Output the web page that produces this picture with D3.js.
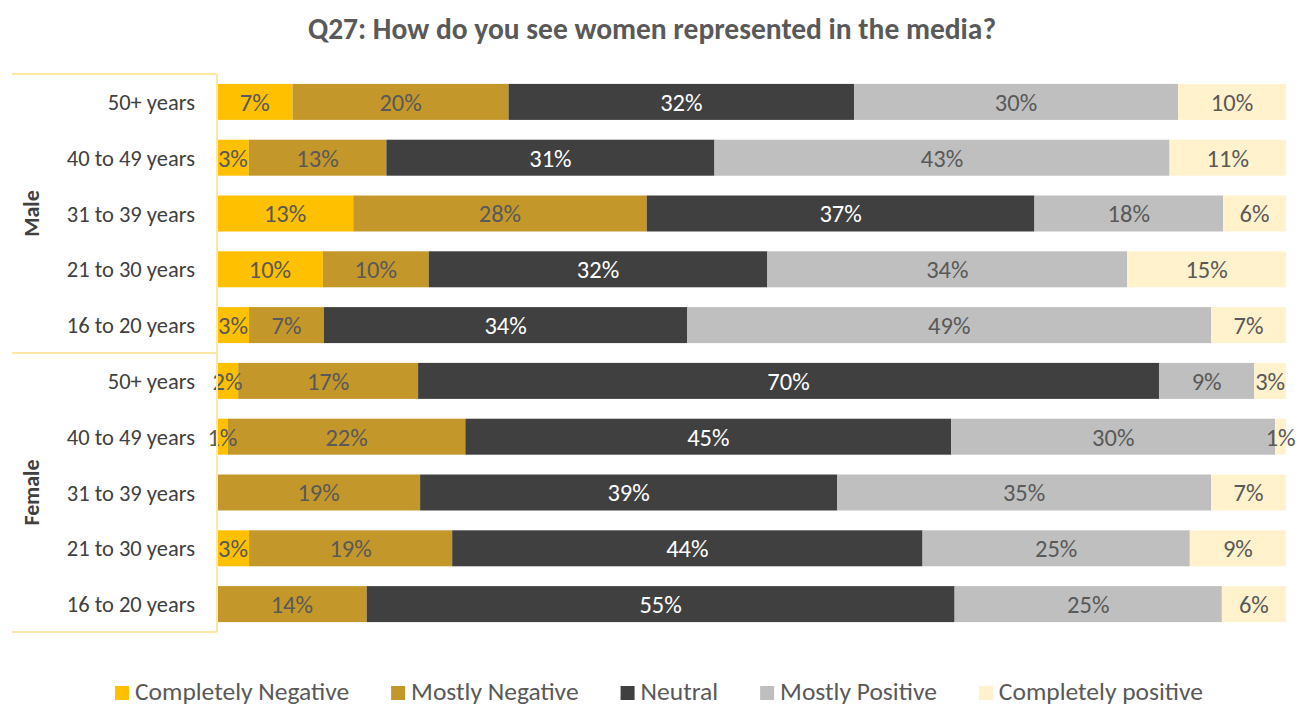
<!DOCTYPE html>
<html>
<head>
<meta charset="utf-8">
<script src="https://cdn.jsdelivr.net/npm/d3@7"></script>
<style>
  html, body { margin: 0; padding: 0; background: #fff; }
  svg { display: block; font-family: Carlito, Lato, "Open Sans", sans-serif; }
</style>
</head>
<body>
<svg id="chart" width="1296" height="709"></svg>
<script>
// Survey responses: Q27, share of answers per gender / age band
const title = "Q27: How do you see women represented in the media?";
const groups = ["Male", "Female"];
const ageBands = ["50+ years", "40 to 49 years", "31 to 39 years", "21 to 30 years", "16 to 20 years"];
const seriesNames = ["Completely Negative", "Mostly Negative", "Neutral", "Mostly Positive", "Completely positive"];
const seriesColors = ["#FFC000", "#C4972A", "#404040", "#BFBFBF", "#FFF2CC"];

// Values per row: Male 50+ ... Male 16-20, then Female 50+ ... Female 16-20
const completelyNegative = [7, 3, 13, 10, 3, 2, 1, 0, 3, 0];
const mostlyNegative     = [20, 13, 28, 10, 7, 17, 22, 19, 19, 14];
const neutral            = [32, 31, 37, 32, 34, 70, 45, 39, 44, 55];
const mostlyPositive     = [30, 43, 18, 34, 49, 9, 30, 35, 25, 25];
const completelyPositive = [10, 11, 6, 15, 7, 3, 1, 7, 9, 6];

const seriesValues = [completelyNegative, mostlyNegative, neutral, mostlyPositive, completelyPositive];

const rows = [];
groups.forEach((g, gi) => ageBands.forEach((a, ai) => {
  const i = gi * ageBands.length + ai;
  const r = { id: i, group: g, band: a };
  seriesNames.forEach((s, si) => { r[s] = seriesValues[si][i]; });
  rows.push(r);
}));

const svg = d3.select("#chart");
const plot = { left: 217, right: 1286, top: 74, bottom: 632 };

const x = d3.scaleLinear().domain([0, 1]).range([plot.left, plot.right]);
const y = d3.scaleBand()
  .domain(rows.map(r => r.id))
  .range([plot.top, plot.bottom])
  .paddingInner(0.355)
  .paddingOuter(0.1775);

const color = d3.scaleOrdinal().domain(seriesNames).range(seriesColors);

// 100% stacked layout
const stacked = d3.stack().keys(seriesNames).offset(d3.stackOffsetExpand)(rows);

// Title
svg.append("text")
  .attr("x", 652).attr("y", 39)
  .attr("text-anchor", "middle")
  .attr("font-size", 29.5).attr("font-weight", 700)
  .attr("fill", "#595959")
  .text(title);

// Bars
const layer = svg.append("g").selectAll("g")
  .data(stacked).join("g")
  .attr("fill", d => color(d.key));

layer.selectAll("rect")
  .data(d => d.map(p => ({ p, key: d.key })))
  .join("rect")
  .attr("x", d => x(d.p[0]))
  .attr("width", d => Math.max(0, x(d.p[1]) - x(d.p[0])))
  .attr("y", d => y(d.p.data.id))
  .attr("height", y.bandwidth());

// Value labels
const labels = svg.append("g")
  .attr("font-size", 24.5)
  .attr("text-anchor", "middle");
stacked.forEach(s => {
  labels.selectAll(null)
    .data(s.filter(p => p.data[s.key] > 0))
    .join("text")
    .attr("x", p => (x(p[0]) + x(p[1])) / 2)
    .attr("y", p => y(p.data.id) + y.bandwidth() / 2)
    .attr("dy", "0.36em")
    .attr("fill", s.key === "Neutral" ? "#ffffff" : "#595959")
    .text(p => p.data[s.key] + "%");
});

// Category axis: age bands
svg.append("g")
  .attr("font-size", 22.5)
  .attr("fill", "#404040")
  .attr("text-anchor", "end")
  .selectAll("text")
  .data(rows).join("text")
  .attr("x", 195)
  .attr("y", r => y(r.id) + y.bandwidth() / 2)
  .attr("dy", "0.36em")
  .text(r => r.band);

// Group brackets and axis line
const lineColor = "#FBE7A6";
const step = y.step();
const groupEdges = groups.map((g, gi) => plot.top + gi * ageBands.length * step);
groupEdges.push(plot.bottom);
svg.append("g")
  .attr("stroke", lineColor).attr("stroke-width", 2)
  .selectAll("line")
  .data(groupEdges).join("line")
  .attr("x1", 12).attr("x2", plot.left)
  .attr("y1", d => d).attr("y2", d => d);
svg.append("line")
  .attr("stroke", lineColor).attr("stroke-width", 2)
  .attr("x1", plot.left).attr("x2", plot.left)
  .attr("y1", plot.top).attr("y2", plot.bottom);

// Group labels (rotated)
svg.append("g")
  .attr("font-size", 22).attr("font-weight", 700)
  .attr("fill", "#404040")
  .attr("text-anchor", "middle")
  .selectAll("text")
  .data(groups).join("text")
  .attr("transform", (g, gi) => {
    const cy = (groupEdges[gi] + groupEdges[gi + 1]) / 2;
    return `translate(31,${cy}) rotate(-90)`;
  })
  .attr("dy", "0.36em")
  .text(g => g);

// Legend
const legend = svg.append("g").attr("font-size", 25.5).attr("fill", "#595959");
const items = legend.selectAll("g").data(seriesNames).join("g");
items.append("rect")
  .attr("width", 14).attr("height", 14)
  .attr("y", 686)
  .attr("fill", d => color(d));
items.append("text")
  .attr("x", 20).attr("y", 700)
  .text(d => d);
let cursor = 0;
const offsets = [];
const gap = 42;
items.each(function () {
  offsets.push(cursor);
  const w = 20 + d3.select(this).select("text").node().getComputedTextLength();
  cursor += w + gap;
});
const totalWidth = cursor - gap;
const legendStart = 659 - totalWidth / 2;
items.attr("transform", (d, i) => `translate(${legendStart + offsets[i]},0)`);
</script>
</body>
</html>
